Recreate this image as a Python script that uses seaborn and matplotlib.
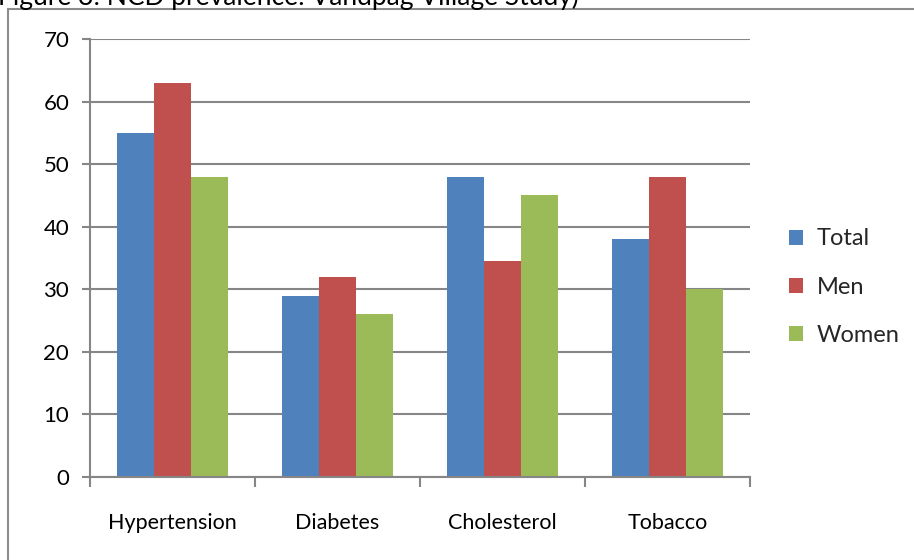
import matplotlib
matplotlib.use("Agg")
import matplotlib.pyplot as plt
import seaborn as sns
import pandas as pd
from matplotlib.patches import Rectangle

categories = ["Hypertension", "Diabetes", "Cholesterol", "Tobacco"]
total = [55, 29, 48, 38]
men = [63, 32, 34.5, 48]
women = [48, 26, 45, 30]
series_names = ["Total", "Men", "Women"]
colors = ["#4F81BD", "#C0504D", "#9BBB59"]
title_text = "Figure 3: NCD prevalence: Vandpag Village Study)"

df = pd.DataFrame({
    "category": categories * 3,
    "group": [s for s in series_names for _ in categories],
    "value": total + men + women,
})

sns.set_theme(style="white")
plt.rcParams["font.family"] = ["Lato", "DejaVu Sans"]

W, H = 914, 560
fig = plt.figure(figsize=(W / 100, H / 100), dpi=100)
ax = fig.add_axes([90 / W, 1 - 477 / H, (750 - 90) / W, (477 - 39) / H])

sns.barplot(data=df, x="category", y="value", hue="group", order=categories,
            hue_order=series_names, palette=colors, width=0.667,
            linewidth=0, saturation=1, ax=ax, legend=True)

grid_c = "#868686"
ax.set_ylim(0, 70)
ax.set_xlim(-0.5, len(categories) - 0.5)
ax.set_yticks(range(0, 71, 10))
ax.yaxis.grid(True, color=grid_c, linewidth=1.5)
ax.set_axisbelow(True)
ax.set_xlabel("")
ax.set_ylabel("")

for side in ["top", "right"]:
    ax.spines[side].set_visible(False)
for side in ["left", "bottom"]:
    ax.spines[side].set_color(grid_c)
    ax.spines[side].set_linewidth(1.5)

# category labels sit between boundary tick marks
ax.set_xticks([i - 0.5 for i in range(len(categories) + 1)], minor=False)
ax.set_xticklabels([])
ax.set_xticks(range(len(categories)), minor=True)
ax.set_xticklabels(categories, minor=True, fontsize=15.5, color="black")
ax.tick_params(axis="x", which="major", direction="out", length=7, width=1.5,
               color=grid_c, bottom=True)
ax.tick_params(axis="x", which="minor", length=0, pad=26)
ax.tick_params(axis="y", direction="out", length=6, width=1.5, color=grid_c,
               left=True, labelsize=16, labelcolor="black", pad=9)

handles, labels = ax.get_legend_handles_labels()
ax.legend(handles, labels, loc="center left", bbox_to_anchor=(768 / W, 1 - 287 / H),
          bbox_transform=fig.transFigure, frameon=False, fontsize=17,
          handlelength=0.6, handleheight=0.6, handletextpad=0.55, labelspacing=1.15)

# outer chart border, running off the right and bottom edges
fig.patches.append(Rectangle((8 / W, -0.1), 1.2, 1 - 9 / H + 0.1,
                             transform=fig.transFigure, fill=False,
                             edgecolor="#8c8c8c", linewidth=1.5))

fig.text(-2 / W, 1 - 5 / H, title_text, fontsize=19, va="baseline",
         ha="left", color="black")

fig.savefig("out.png", dpi=100)
